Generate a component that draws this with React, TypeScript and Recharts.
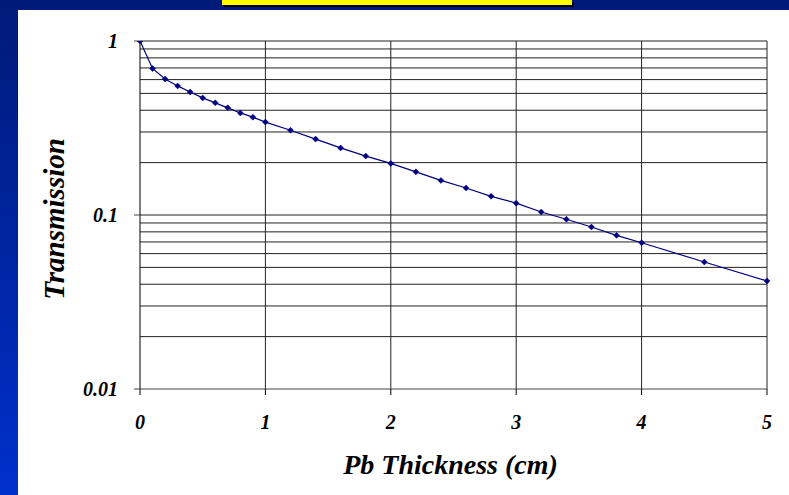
import React from "react";
import {
  LineChart,
  Line,
  XAxis,
  YAxis,
  ReferenceLine,
  Label,
} from "recharts";

// espessura de chumbo (cm) e transmissão
const THICKNESS = [
  0, 0.1, 0.2, 0.3, 0.4, 0.5, 0.6, 0.7, 0.8, 0.9, 1.0, 1.2, 1.4, 1.6, 1.8, 2.0,
  2.2, 2.4, 2.6, 2.8, 3.0, 3.2, 3.4, 3.6, 3.8, 4.0, 4.5, 5.0,
];
const TRANSMISSION = [
  1.0, 0.695, 0.605, 0.552, 0.509, 0.471, 0.441, 0.413, 0.386, 0.365, 0.342,
  0.307, 0.273, 0.243, 0.218, 0.198, 0.177, 0.158, 0.143, 0.128, 0.117, 0.104,
  0.0945, 0.0853, 0.0764, 0.0693, 0.0537, 0.0418,
];

const X_TICKS = [0, 1, 2, 3, 4, 5];
const Y_TICKS = [0.01, 0.1, 1];
const Y_GRID = [
  0.02, 0.03, 0.04, 0.05, 0.06, 0.07, 0.08, 0.09, 0.1, 0.2, 0.3, 0.4, 0.5, 0.6,
  0.7, 0.8, 0.9, 1,
];

const data = THICKNESS.map((x, i) => ({ x, t: TRANSMISSION[i] }));

const FONT = "'Liberation Serif', 'Times New Roman', serif";
const NAVY = "#000080";

const tickStyle = {
  fontFamily: FONT,
  fontSize: 20,
  fontWeight: "bold" as const,
  fontStyle: "italic" as const,
  fill: "#000",
};

const Diamond = (props: any) => {
  const { cx, cy } = props;
  if (cx == null || cy == null) return null;
  const s = 3;
  return (
    <polygon
      points={`${cx},${cy - s} ${cx + s},${cy} ${cx},${cy + s} ${cx - s},${cy}`}
      fill={NAVY}
      stroke={NAVY}
      strokeWidth={0.5}
    />
  );
};

export default function App() {
  return (
    <div
      style={{
        position: "absolute",
        top: 0,
        left: 0,
        width: 789,
        height: 495,
        overflow: "hidden",
        background: "linear-gradient(to bottom, #001a78, #0030cc)",
      }}
    >
      <div
        style={{
          position: "absolute",
          left: 222,
          top: 0,
          width: 350,
          height: 5,
          background: "#ffff00",
          boxShadow: "2px 2px 0 #000",
        }}
      />
      <div
        style={{
          position: "absolute",
          left: 18,
          top: 10,
          right: 0,
          bottom: 0,
          background: "#fff",
        }}
      />
      <div style={{ position: "absolute", left: 0, top: 0 }}>
        <LineChart
          width={789}
          height={495}
          data={data}
          margin={{ top: 41, right: 22, bottom: 0, left: 0 }}
        >
          <XAxis
            dataKey="x"
            type="number"
            domain={[0, 5]}
            ticks={X_TICKS}
            height={106}
            tickSize={6}
            tickMargin={20}
            tick={tickStyle}
            axisLine={{ stroke: "#444" }}
            tickLine={{ stroke: "#000" }}
          >
            <Label
              content={({ viewBox }: any) => (
                <text
                  x={viewBox.x + viewBox.width / 2 - 3}
                  y={474}
                  textAnchor="middle"
                  style={{ ...tickStyle, fontSize: 28 }}
                >
                  Pb Thickness (cm)
                </text>
              )}
            />
          </XAxis>
          <YAxis
            dataKey="t"
            scale="log"
            domain={[0.01, 1]}
            ticks={Y_TICKS}
            allowDataOverflow
            width={140}
            tickSize={6}
            tickMargin={16}
            tick={tickStyle}
            tickFormatter={(v: number) => String(v)}
            axisLine={{ stroke: "#000" }}
            tickLine={{ stroke: "#444" }}
          >
            <Label
              content={({ viewBox }: any) => (
                <text
                  transform={`translate(64, ${viewBox.y + viewBox.height / 2 + 4}) rotate(-90)`}
                  textAnchor="middle"
                  style={{ ...tickStyle, fontSize: 29 }}
                >
                  Transmission
                </text>
              )}
            />
          </YAxis>
          {Y_GRID.map((v) => (
            <ReferenceLine key={`h-${v}`} y={v} stroke="#222" strokeWidth={1} />
          ))}
          {X_TICKS.slice(1).map((v) => (
            <ReferenceLine key={`v-${v}`} x={v} stroke="#222" strokeWidth={1} />
          ))}
          <Line
            type="linear"
            dataKey="t"
            stroke={NAVY}
            strokeWidth={1.2}
            dot={<Diamond />}
            activeDot={false}
            isAnimationActive={false}
          />
        </LineChart>
      </div>
    </div>
  );
}
